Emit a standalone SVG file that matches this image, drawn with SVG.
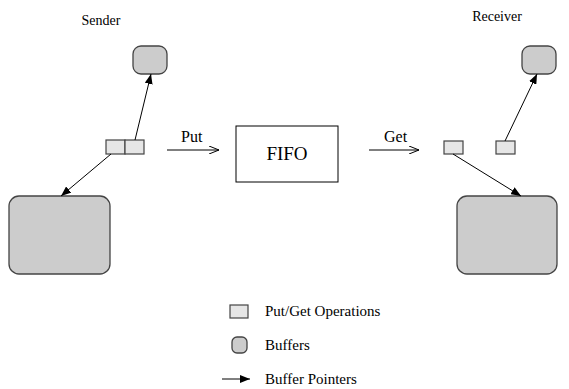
<svg xmlns="http://www.w3.org/2000/svg" width="569" height="389" viewBox="0 0 569 389">
<defs>
<style>
text{font-family:"Liberation Serif","Times New Roman",serif;font-size:15px;fill:#000}
.lbl{font-size:14px}
.fl{font-size:16px}
.op{fill:#e6e6e6;stroke:#444;stroke-width:1.2}
.buf{fill:#cccccc;stroke:#444;stroke-width:1.3}
.ptr{stroke:#000;stroke-width:1;fill:none;marker-end:url(#ah)}
.flow{stroke:#000;stroke-width:1;fill:none;marker-end:url(#oh)}
</style>
<marker id="ah" viewBox="0 0 10 8" refX="10" refY="4" markerWidth="10" markerHeight="8" markerUnits="userSpaceOnUse" orient="auto">
<path d="M0,0 L10,4 L0,8 z" fill="#000"/>
</marker>
<marker id="oh" viewBox="0 0 10 8" refX="10" refY="4" markerWidth="10" markerHeight="8" markerUnits="userSpaceOnUse" orient="auto">
<path d="M0,0 L10,4 L0,8" fill="none" stroke="#000" stroke-width="1"/>
</marker>
</defs>
<g id="sender-label"><text class="lbl" x="101" y="25" text-anchor="middle">Sender</text></g>
<g id="receiver-label"><text class="lbl" x="497" y="21" text-anchor="middle">Receiver</text></g>
<g id="sender-small-buffer"><rect class="buf" x="133" y="46" width="34" height="28" rx="8"/></g>
<g id="sender-big-buffer"><rect class="buf" x="9" y="196" width="101" height="78" rx="10"/></g>
<g id="sender-ops"><rect class="op" x="106" y="140" width="19" height="14"/><rect class="op" x="125" y="140" width="19" height="14"/></g>
<g id="fifo"><rect x="236" y="126" width="102" height="56" fill="#fff" stroke="#000" stroke-width="1"/><text x="287" y="160" text-anchor="middle" style="font-size:19px">FIFO</text></g>
<g id="receiver-op-get"><rect class="op" x="444" y="141" width="19" height="13"/></g>
<g id="receiver-op-put"><rect class="op" x="496" y="141" width="19" height="13"/></g>
<g id="receiver-small-buffer"><rect class="buf" x="522" y="46" width="34" height="28" rx="8"/></g>
<g id="receiver-big-buffer"><rect class="buf" x="457" y="196" width="100" height="78" rx="10"/></g>
<g id="connectors">
<line class="ptr" x1="135" y1="140" x2="151" y2="74"/>
<line class="ptr" x1="111" y1="154" x2="61" y2="196"/>
<line class="ptr" x1="505" y1="141" x2="537" y2="74"/>
<line class="ptr" x1="453" y1="154" x2="521" y2="196"/>
<line class="flow" x1="167" y1="150" x2="219" y2="150"/>
<line class="flow" x1="369" y1="150" x2="419" y2="150"/>
</g>
<g id="flow-labels"><text class="fl" x="181" y="142">Put</text><text class="fl" x="384" y="142">Get</text></g>
<g id="legend">
<rect class="op" x="230" y="305" width="18" height="13"/>
<text x="265" y="316">Put/Get Operations</text>
<rect class="buf" x="232" y="337" width="15" height="16" rx="5"/>
<text x="265" y="350">Buffers</text>
<line class="ptr" x1="222" y1="379" x2="250" y2="379"/>
<text x="265" y="384">Buffer Pointers</text>
</g>
</svg>
